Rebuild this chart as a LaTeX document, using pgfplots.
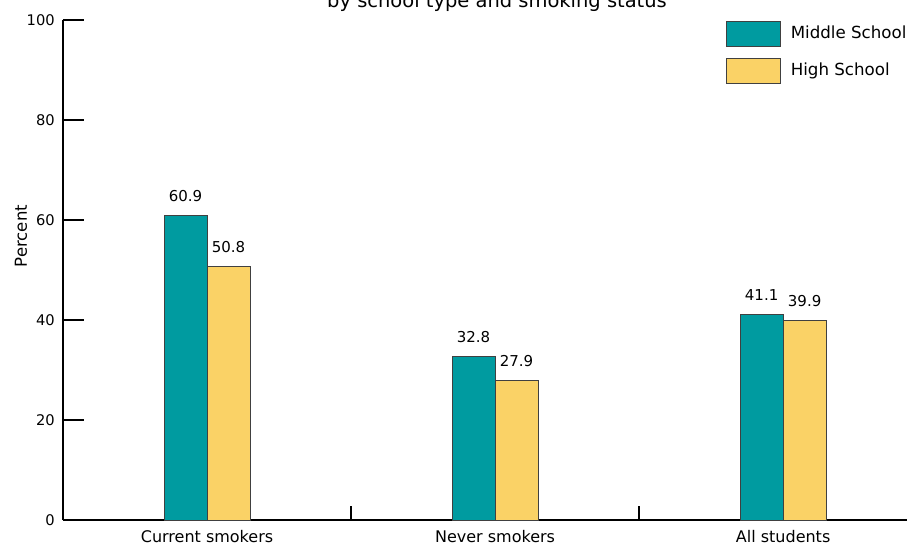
\documentclass[border=0pt]{standalone}
\usepackage{fontspec}
\setmainfont{DejaVu Sans}
\usepackage{pgfplots}
\pgfplotsset{compat=1.18}
\definecolor{msteal}{RGB}{0,155,160}
\definecolor{hsyellow}{RGB}{250,210,102}
\begin{document}
\begin{tikzpicture}
\begin{axis}[
  at={(0,0)}, anchor=south west,
  scale only axis, width=633pt, height=375pt,
  xmin=-0.5, xmax=2.43, ymin=0, ymax=100,
  axis x line=bottom, axis y line=left,
  axis line style={-, black},
  x axis line style={line width=2pt},
  y axis line style={line width=1.5pt},
  ytick={0,20,40,60,80,100},
  tick align=inside,
  major tick length=15.75pt,
  xtick={0,1,2},
  xticklabels={Current smokers, Never smokers, All students},
  x tick style={draw=none},
  extra x ticks={0.5,1.5},
  extra x tick labels={},
  extra x tick style={major tick length=10.5pt, tick align=inside, x tick style={draw=black, line width=1.2pt}},
  every major y tick/.append style={line width=1.5pt, black},
  /pgf/number format/assume math mode=true,
  yticklabel style={font=\fontsize{11}{13}\selectfont, anchor=east, inner sep=0pt, xshift=-6pt},
  xticklabel style={font=\fontsize{12}{14}\selectfont, anchor=base, inner sep=0pt, yshift=-1pt},
  ybar, bar width=32.25pt,
  nodes near coords,
  nodes near coords style={anchor=base, yshift=10.5pt, inner sep=0pt, font=\fontsize{11.25}{13}\selectfont,
    /pgf/number format/fixed, /pgf/number format/precision=1, /pgf/number format/fixed zerofill},
  legend image code/.code={\draw[#1, line width=0.6pt] (0pt,-9.75pt) rectangle (40.5pt,9pt);},
  legend style={at={(rel axis cs:0.7855,0.998)}, anchor=north west, draw=none, fill=none,
    inner sep=0pt, outer sep=0pt, row sep=8.25pt, font=\fontsize{12.5}{15}\selectfont,
    nodes={inner sep=0pt}, /tikz/every odd column/.append style={column sep=7.5pt}},
  legend cell align=left,
]
\addplot[fill=msteal, draw=black!75, line width=0.6pt, bar shift=-16.125pt] coordinates {(0,60.9) (1,32.8) (2,41.1)};
\addplot[fill=hsyellow, draw=black!75, line width=0.6pt, bar shift=16.125pt] coordinates {(0,50.8) (1,27.9) (2,39.9)};
\legend{Middle School, High School}
\end{axis}
\node[anchor=base, font=\fontsize{14.6}{17}\selectfont] at (325.5pt,384pt) {by school type and smoking status};
\node[rotate=90, anchor=base, font=\fontsize{12.4}{14}\selectfont] at (-27pt,213pt) {Percent};
\pgfresetboundingbox
\useasboundingbox (-47.25pt,-18pt) rectangle (633pt,390pt);
\end{tikzpicture}
\end{document}
